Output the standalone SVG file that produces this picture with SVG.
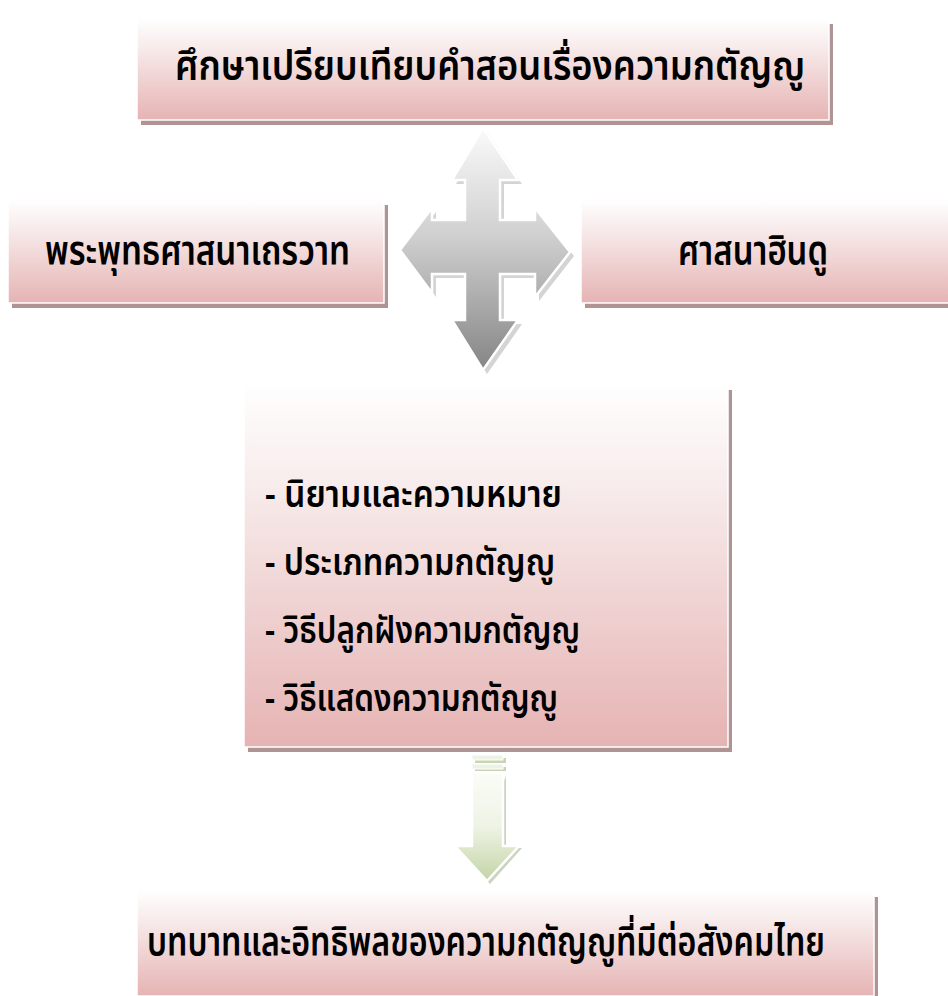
<svg xmlns="http://www.w3.org/2000/svg" width="948" height="996" viewBox="0 0 948 996">
<defs>
<linearGradient id="pink" x1="0" y1="0" x2="0" y2="1">
<stop offset="0" stop-color="#ffffff"/>
<stop offset="0.3" stop-color="#f7eaea"/>
<stop offset="1" stop-color="#e6b3b3"/>
</linearGradient>
<linearGradient id="gray" x1="0" y1="0" x2="0" y2="1">
<stop offset="0" stop-color="#fafafa"/>
<stop offset="0.45" stop-color="#cfcfcf"/>
<stop offset="1" stop-color="#858585"/>
</linearGradient>
<linearGradient id="green" x1="0" y1="0" x2="0" y2="1">
<stop offset="0" stop-color="#fbfcf8"/>
<stop offset="0.5" stop-color="#eef3e4"/>
<stop offset="1" stop-color="#c3d4a6"/>
</linearGradient>
<style>
.box{fill:url(#pink);stroke:#ffffff;stroke-width:1.5}
.shd{fill:#b09494}
.t{font-family:"Noto Sans","Noto Sans Thai","DejaVu Sans",sans-serif;fill:#000;font-weight:600}
</style>
</defs>
<rect width="948" height="996" fill="#ffffff"/>
<g id="connectors">
<g id="quad-arrow">
<polygon points="487,132 522,184 504,184 504,224 539,224 539,212 574,256 539,301 539,278 504,278 504,324 522,324 487,374 456,324 469,324 469,278 436,278 436,297 404,254 436,212 436,224 469,224 469,184 456,184" fill="#b8b8b8" opacity="0.6"/>
<polygon points="483,128 518,180 500,180 500,220 535,220 535,208 570,252 535,297 535,274 500,274 500,320 518,320 483,370 452,320 465,320 465,274 432,274 432,293 400,250 432,208 432,220 465,220 465,180 452,180" fill="url(#gray)" stroke="#ffffff" stroke-width="2.5" stroke-linejoin="miter"/>
</g>
<g id="down-arrow">
<polygon points="506,776 506,848 522,848 490,884 460,848 476,848" fill="#b7c2a6" opacity="0.7"/>
<polygon points="472,773 503,773 503,846 519,846 487,881 455,846 472,846" fill="url(#green)" stroke="#ffffff" stroke-width="2.5"/>
<rect x="475" y="758" width="31" height="5" fill="#c8d4b4"/>
<rect x="475" y="767" width="31" height="4" fill="#c8d4b4"/>
<rect x="472" y="755" width="31" height="5" fill="#eef2e6" stroke="#ffffff" stroke-width="1"/>
<rect x="472" y="764" width="31" height="5" fill="#eef2e6" stroke="#ffffff" stroke-width="1"/>
</g>
</g>
<g id="node-top">
<rect class="shd" x="141" y="24" width="692" height="101"/>
<rect class="box" x="137" y="18" width="692" height="102"/>
<text class="t" x="175" y="80" font-size="40" textLength="630" lengthAdjust="spacingAndGlyphs">ศึกษาเปรียบเทียบคำสอนเรื่องความกตัญญู</text>
</g>
<g id="node-left">
<rect class="shd" x="12" y="205" width="376" height="103"/>
<rect class="box" x="8" y="199" width="376" height="104"/>
<text class="t" x="45" y="265" font-size="40" textLength="305" lengthAdjust="spacingAndGlyphs">พระพุทธศาสนาเถรวาท</text>
</g>
<g id="node-right">
<rect class="shd" x="585" y="205" width="370" height="103"/>
<rect class="box" x="581" y="199" width="370" height="104"/>
<text class="t" x="678" y="265" font-size="40" textLength="150" lengthAdjust="spacingAndGlyphs">ศาสนาฮินดู</text>
</g>
<g id="node-middle">
<rect class="shd" x="248" y="390" width="484" height="362"/>
<rect class="box" x="244" y="383" width="484" height="364"/>
<text class="t" x="265" y="507" font-size="37" textLength="297" lengthAdjust="spacingAndGlyphs">- นิยามและความหมาย</text>
<text class="t" x="265" y="575" font-size="37" textLength="290" lengthAdjust="spacingAndGlyphs">- ประเภทความกตัญญู</text>
<text class="t" x="265" y="643" font-size="37" textLength="315" lengthAdjust="spacingAndGlyphs">- วิธีปลูกฝังความกตัญญู</text>
<text class="t" x="265" y="711" font-size="37" textLength="293" lengthAdjust="spacingAndGlyphs">- วิธีแสดงความกตัญญู</text>
</g>
<g id="node-bottom">
<rect class="shd" x="141" y="897" width="737" height="99"/>
<rect class="box" x="137" y="890" width="737" height="106"/>
<text class="t" transform="translate(147,956) scale(0.793,1)" x="0" y="0" font-size="40" textLength="855" lengthAdjust="spacingAndGlyphs">บทบาทและอิทธิพลของความกตัญญูที่มีต่อสังคมไทย</text>
</g>
</svg>
